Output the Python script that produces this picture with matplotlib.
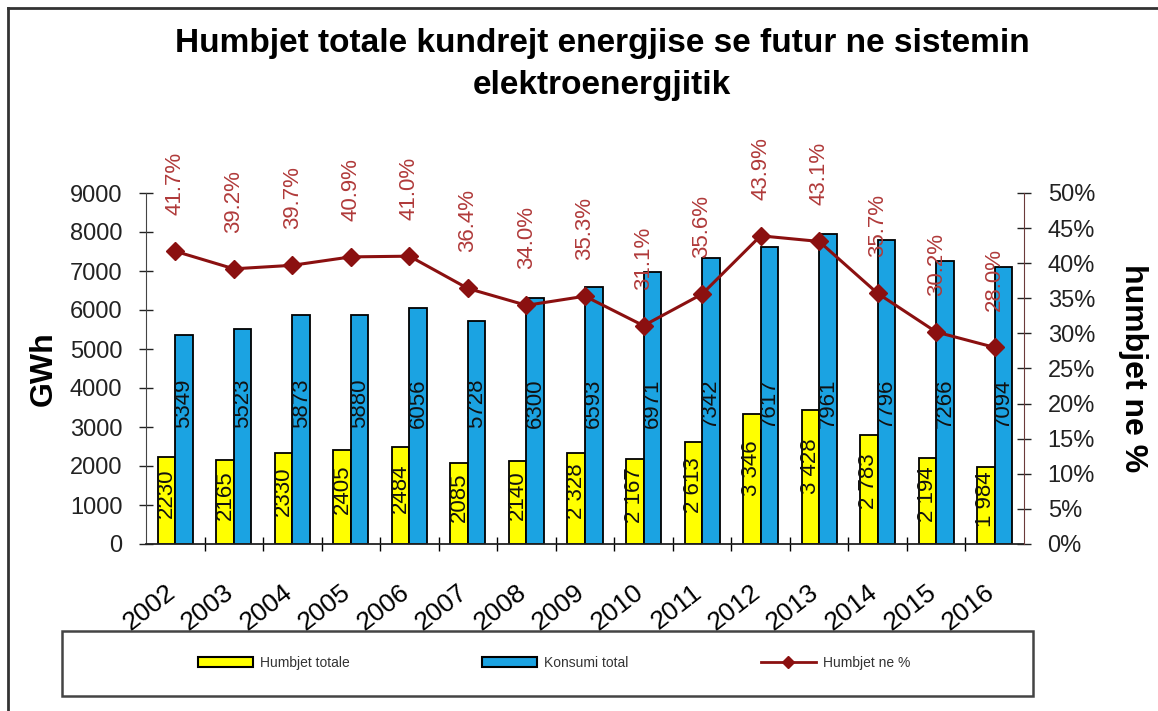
import matplotlib
matplotlib.use("Agg")
import matplotlib.pyplot as plt
import numpy as np
from matplotlib.ticker import FuncFormatter, FixedLocator
from matplotlib.lines import Line2D
from matplotlib.patches import Rectangle, Patch

plt.rcParams['font.family'] = ['Liberation Sans', 'DejaVu Sans']

years = ["2002", "2003", "2004", "2005", "2006", "2007", "2008", "2009",
         "2010", "2011", "2012", "2013", "2014", "2015", "2016"]
humbjet_totale = [2230, 2165, 2330, 2405, 2484, 2085, 2140, 2328,
                  2167, 2613, 3346, 3428, 2783, 2194, 1984]
humbjet_labels = ["2230", "2165", "2330", "2405", "2484", "2085", "2140", "2 328",
                  "2 167", "2 613", "3 346", "3 428", "2 783", "2 194", "1 984"]
konsumi_total = [5349, 5523, 5873, 5880, 6056, 5728, 6300, 6593,
                 6971, 7342, 7617, 7961, 7796, 7266, 7094]
konsumi_labels = ["5349", "5523", "5873", "5880", "6056", "5728", "6300", "6593",
                  "6971", "7342", "7617", "7961", "7796", "7266", "7094"]
humbjet_pct = [41.7, 39.2, 39.7, 40.9, 41.0, 36.4, 34.0, 35.3,
               31.1, 35.6, 43.9, 43.1, 35.7, 30.2, 28.0]

W, H = 1158, 711
fig = plt.figure(figsize=(W / 100, H / 100), dpi=100)

def fx(px):
    return px / W

def fy(py):
    return 1 - py / H

# outer frame (top and left edges)
fig.add_artist(Line2D([fx(8), fx(8)], [fy(8), 0], transform=fig.transFigure, color='#333333', lw=2))
fig.add_artist(Line2D([fx(8), 1], [fy(8), fy(8)], transform=fig.transFigure, color='#333333', lw=2))

ax = fig.add_axes([fx(146), fy(544), fx(1024) - fx(146), fy(193) - fy(544)])
x = np.arange(len(years))
yellow = '#FFFF00'
blue = '#1BA3E2'
bw = 0.3
ax.bar(x - bw / 2, humbjet_totale, width=bw, color=yellow, edgecolor='black', linewidth=1.3, zorder=2)
ax.bar(x + bw / 2, konsumi_total, width=bw, color=blue, edgecolor='black', linewidth=1.3, zorder=2)

for i in range(len(years)):
    ax.text(x[i] - bw / 2, humbjet_totale[i] * 0.58, humbjet_labels[i], rotation=90,
            ha='center', va='center', fontsize=16, color='#111111', zorder=3)
    ax.text(x[i] + bw / 2, 3600, konsumi_labels[i], rotation=90,
            ha='center', va='center', fontsize=16, color='#111111', zorder=3)

ax.set_xlim(-0.5, len(years) - 0.5)
ax.set_ylim(0, 9000)
ax.set_yticks(np.arange(0, 9001, 1000))
ax.tick_params(axis='y', direction='inout', length=10, width=1, labelsize=17, pad=12, colors='#222222')
# year labels (invisible major ticks), anchored slightly left of the category centre
ax.set_xticks(x - 0.18)
ax.set_xticklabels(years, rotation=38, ha='right', rotation_mode='anchor', fontsize=19)
ax.tick_params(axis='x', which='major', length=0, pad=26)
ax.xaxis.set_minor_locator(FixedLocator(np.arange(0.5, len(years) - 1, 1.0)))
ax.tick_params(axis='x', which='minor', direction='inout', length=10, width=1)
for s in ['top', 'right']:
    ax.spines[s].set_visible(False)
ax.spines['left'].set_color('#444444')
ax.spines['bottom'].set_color('#222222')
ax.spines['bottom'].set_linewidth(1.3)
ax.set_ylabel('GWh', fontsize=23, fontweight='bold', labelpad=8)

ax2 = ax.twinx()
ax2.set_ylim(0, 0.5)
ax2.set_yticks(np.arange(0, 0.501, 0.05))
ax2.yaxis.set_major_formatter(FuncFormatter(lambda v, p: f"{v * 100:.0f}%"))
ax2.tick_params(axis='y', direction='inout', length=10, width=1, labelsize=17, pad=12, colors='#222222')
for s in ['top', 'left', 'bottom']:
    ax2.spines[s].set_visible(False)
ax2.spines['right'].set_color('#6b3a3a')
ax2.set_ylabel('humbjet ne %', fontsize=23, fontweight='bold', rotation=270, labelpad=38)

pct = np.array(humbjet_pct) / 100
line_color = '#8B1010'
ax2.plot(x, pct, color=line_color, lw=2.2, marker='D', markersize=9, zorder=4)
for i in range(len(years)):
    ax2.annotate(f"{humbjet_pct[i]:.1f}%", (x[i], pct[i]), xytext=(0, 26), textcoords='offset points',
                 rotation=90, ha='center', va='bottom', fontsize=16, color='#B03A3A')

# title
fig.text(fx(602), fy(28), "Humbjet totale kundrejt energjise se futur ne sistemin\nelektroenergjitik",
         ha='center', va='top', fontsize=24, fontweight='bold', linespacing=1.45)

# legend box
fig.add_artist(Rectangle((fx(62), fy(696)), fx(1033) - fx(62), fy(631) - fy(696),
                         transform=fig.transFigure, fill=False, edgecolor='#444444', lw=1.8))
handles = [Patch(facecolor=yellow, edgecolor='black', lw=1.5),
           Patch(facecolor=blue, edgecolor='black', lw=1.5),
           Line2D([0], [0], color=line_color, lw=2, marker='D', markersize=6)]
fig.legend(handles, ['Humbjet totale', 'Konsumi total', 'Humbjet ne %'], loc='center',
           bbox_to_anchor=(fx(554), fy(663)), ncol=3, frameon=False, fontsize=10,
           handlelength=4.0, handletextpad=0.5, columnspacing=9.5, labelcolor='#333333')

fig.savefig('out.png', dpi=100)
